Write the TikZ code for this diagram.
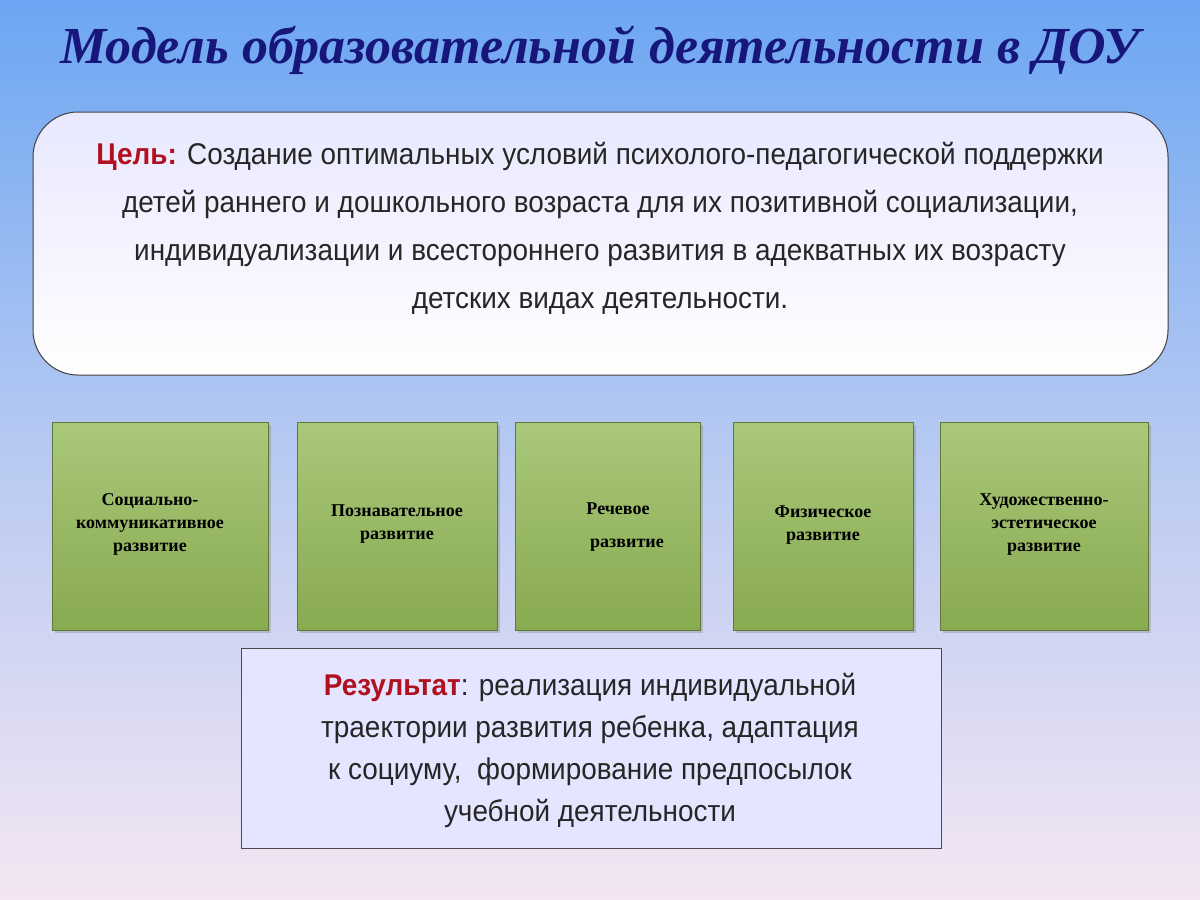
\documentclass[tikz,border=0pt]{standalone}
\usepackage{fontspec}
\setmainfont{Liberation Serif}
\newfontfamily\sansf[FakeStretch=0.93]{Liberation Sans}
\usetikzlibrary{shadows}
\definecolor{bgtop}{HTML}{6CA6F2}
\definecolor{bgbot}{HTML}{F4E6F2}
\definecolor{titlec}{HTML}{17167A}
\definecolor{redc}{HTML}{B01020}
\definecolor{gtop}{HTML}{A9C87A}
\definecolor{gbot}{HTML}{88AA50}
\tikzset{
  gbox/.style={draw=gbot!70!black, line width=0.8pt, top color=gtop, bottom color=gbot, drop shadow={opacity=0.35,shadow xshift=3pt,shadow yshift=-3pt}},
  gtext/.style={font=\bfseries\fontsize{18}{23}\selectfont, align=center, text=black},
}
\begin{document}
\begin{tikzpicture}[x=1pt,y=-1pt]
\useasboundingbox (0,0) rectangle (1200,900);
\shade[top color=bgtop, bottom color=bgbot, middle color=bgtop!45!bgbot] (0,0) rectangle (1200,900);
\node[font=\bfseries\itshape\fontsize{52}{58}\selectfont, text=titlec] (title) at (600,50) {Модель образовательной деятельности в ДОУ};
\draw[black!75, line width=1pt, rounded corners=45pt, left color=white!85!blue!60!white, right color=white, shading angle=0] (33,112) rectangle (1168,375);
\node[font=\sansf\fontsize{30}{48}\selectfont, align=center, text=black!85] (goal) at (600,228)
 {{\color{redc}\bfseries Цель:} Создание оптимальных условий психолого-педагогической поддержки\\
 детей раннего и дошкольного возраста для их позитивной социализации,\\
 индивидуализации и всестороннего развития в адекватных их возрасту\\
 детских видах деятельности.};
\path[gbox] (52,422) rectangle (268,630);
\path[gbox] (297,422) rectangle (497,630);
\path[gbox] (515,422) rectangle (700,630);
\path[gbox] (733,422) rectangle (913,630);
\path[gbox] (940,422) rectangle (1148,630);
\node[gtext] (b1) at (150,524) {Социально-\\коммуникативное\\развитие};
\node[gtext] (b2) at (397,524) {Познавательное\\развитие};
\node[gtext, font=\bfseries\fontsize{18}{33}\selectfont] (b3) at (618,527) {Речевое\\\ \ \ \ развитие};
\node[gtext] (b4) at (823,525) {Физическое\\развитие};
\node[gtext] (b5) at (1044,525) {Художественно-\\эстетическое\\развитие};
\draw[black!70, line width=1pt, fill=blue!10!white] (241,648) rectangle (941,848);
\node[font=\sansf\fontsize{30}{42}\selectfont, align=center, text=black!85] (res) at (590,750)
 {{\color{redc}\bfseries Результат}: реализация индивидуальной\\
 траектории развития ребенка, адаптация\\
 к социуму,\ \ формирование предпосылок\\
 учебной деятельности};
\end{tikzpicture}
\end{document}
